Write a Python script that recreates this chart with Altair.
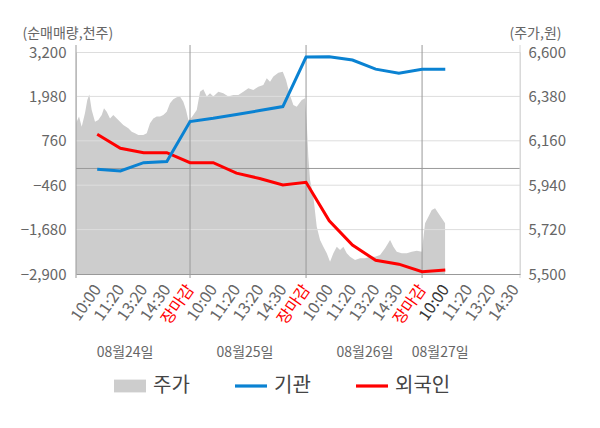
import json
import pandas as pd
import altair as alt

FONT = "Noto Sans CJK KR"

# ---------------- data ----------------
x_labels = ["10:00", "11:20", "13:20", "14:30", "장마감"] * 3 + ["10:00", "11:20", "13:20", "14:30"]
date_labels = ["08월24일", "08월25일", "08월26일", "08월27일"]
date_pos = [1.2, 6.37, 11.54, 14.78]
day_bounds = [-0.914, 4, 9, 14]
x_domain = [-0.914, 18.22]
left_ticks = [-2900, -1680, -460, 760, 1980, 3200]
right_ticks = [5500, 5720, 5940, 6160, 6380, 6600]

line_t = list(range(16))
inst = [-20, -70, 160, 190, 1290, 1380, 1485, 1590, 1700, 3060, 3070, 2980, 2730, 2620, 2725, 2725]
foreign = [938, 554, 433, 433, 158, 158, -130, -275, -455, -381, -1440, -2104, -2525, -2630, -2837, -2790]

price_t = [-0.914, -0.884, -0.784, -0.668, -0.526, -0.427, -0.341, -0.237, -0.095, 0.047, 0.194,
           0.293, 0.409, 0.552, 0.694, 0.909, 1.125, 1.341, 1.487, 1.629, 1.772, 1.987, 2.134,
           2.276, 2.418, 2.565, 2.707, 2.849, 2.996, 3.138, 3.280, 3.427, 3.569, 3.711, 3.828,
           3.927, 4.030,
           4.142, 4.289, 4.431, 4.573, 4.720, 4.862, 5.004, 5.220, 5.435, 5.651, 5.866, 6.082,
           6.297, 6.513, 6.728, 6.944, 7.159, 7.306, 7.448, 7.591, 7.806, 7.996, 8.138, 8.280,
           8.453, 8.599, 8.815, 8.957, 9.030,
           9.099, 9.172, 9.315, 9.461, 9.603, 9.746, 9.892, 10.034, 10.177, 10.323, 10.466,
           10.608, 10.754, 10.897, 11.112, 11.328, 11.543, 11.759, 11.974, 12.190, 12.405,
           12.621, 12.763, 12.909, 13.125, 13.341, 13.556, 13.772, 13.987,
           14.129, 14.272, 14.418, 14.560, 14.703, 14.849, 14.991]
price = [6250, 6255, 6280, 6230, 6298, 6362, 6390, 6313, 6255, 6263, 6288,
         6321, 6304, 6271, 6288, 6263, 6238, 6222, 6205, 6197, 6189, 6189, 6197,
         6247, 6271, 6280, 6280, 6288, 6304, 6346, 6366, 6376, 6379, 6354, 6313,
         6263, 6271,
         6288, 6313, 6403, 6415, 6379, 6395, 6379, 6403, 6395, 6379, 6387, 6387,
         6403, 6420, 6412, 6428, 6436, 6470, 6453, 6478, 6497, 6502, 6461, 6395,
         6337, 6329, 6362, 6371, 6247,
         6081, 5966, 5883, 5734, 5668, 5635, 5603, 5561, 5603, 5635, 5619,
         5635, 5603, 5586, 5569, 5578, 5578, 5586, 5586, 5594, 5627,
         5668, 5635, 5610, 5603, 5603, 5610, 5615, 5610,
         5751, 5784, 5817, 5826, 5801, 5776, 5751]

series_names = ["주가", "기관", "외국인"]
series_colors = ["#cdcdcd", "#0a82d2", "#ff0000"]

# ---------------- frames ----------------
df_price = pd.DataFrame({"t": price_t, "price": price})
df_inst = pd.DataFrame({"t": line_t, "v": inst})
df_for = pd.DataFrame({"t": line_t, "v": foreign})
df_grid = pd.DataFrame({"v": left_ticks[1:-1]})
df_zero = pd.DataFrame({"v": [0]})
df_bounds = pd.DataFrame({"t": day_bounds})
df_right = pd.DataFrame({"t": [x_domain[1]]})
df_dates = pd.DataFrame({"t": date_pos, "label": date_labels})
df_leg = pd.DataFrame({"series": series_names, "t": [line_t[0]] * 3, "v": [inst[0]] * 3})

W, H = 444, 222

xscale = alt.Scale(domain=x_domain, nice=False, zero=False)
lscale = alt.Scale(domain=[left_ticks[0], left_ticks[-1]], nice=False, zero=False)
rscale = alt.Scale(domain=[right_ticks[0], right_ticks[-1]], nice=False, zero=False)

label_expr = json.dumps(x_labels, ensure_ascii=False) + "[round(datum.value)]"

x_axis = alt.Axis(
    values=list(range(len(x_labels))), labelExpr=label_expr, labelAngle=-55,
    labelAlign="right", labelBaseline="middle",
    labelFont=FONT, labelFontSize=16, labelOverlap=False, labelPadding=12,
    labelColor={"condition": [
        {"test": "datum.value == 4 || datum.value == 9 || datum.value == 14", "value": "#ff0000"},
        {"test": "datum.value == 15", "value": "#333333"}], "value": "#666666"},
    ticks=False, grid=False, domain=True, domainColor="#999999", title=None, zindex=1,
)

X = alt.X("t:Q", scale=xscale, axis=x_axis)

right_axis = alt.Axis(
    orient="right", values=right_ticks, format=",.0f", title="(주가,원)", titleAngle=0,
    titleX=-11, titleY=-19, titleAlign="left", titleBaseline="middle",
    titleFont=FONT, titleFontSize=14, titleFontWeight="normal", titleColor="#666666",
    labelFont=FONT, labelFontSize=15, labelColor="#666666", labelPadding=8,
    domain=False, ticks=False, grid=False,
)
left_axis = alt.Axis(
    orient="left", values=left_ticks, format=",.0f", title="(순매매량,천주)", titleAngle=0,
    titleX=-54, titleY=-19, titleAlign="left", titleBaseline="middle",
    titleFont=FONT, titleFontSize=14, titleFontWeight="normal", titleColor="#666666",
    labelFont=FONT, labelFontSize=15, labelColor="#666666", labelPadding=10,
    domain=False, ticks=False, grid=False,
)

area = alt.Chart(df_price).mark_area(color=series_colors[0]).encode(
    x=X,
    y=alt.Y("price:Q", scale=rscale, axis=right_axis),
    y2=alt.datum(right_ticks[0]),
)

grid = alt.Chart(df_grid).mark_rule(color="#dddddd", strokeWidth=1).encode(
    y=alt.Y("v:Q", scale=lscale, axis=left_axis)
)
zero = alt.Chart(df_zero).mark_rule(color="#999999", strokeWidth=1).encode(
    y=alt.Y("v:Q", scale=lscale, axis=left_axis)
)
bounds = alt.Chart(df_bounds).mark_rule(color="#999999", strokeWidth=1).encode(
    x=X, y=alt.value(-7), y2=alt.value(H + 4)
)
right_edge = alt.Chart(df_right).mark_rule(color="#d6d6d6", strokeWidth=1).encode(
    x=X, y=alt.value(-7), y2=alt.value(H + 4)
)
red = alt.Chart(df_for).mark_line(color=series_colors[2], strokeWidth=3).encode(
    x=X, y=alt.Y("v:Q", scale=lscale, axis=left_axis)
)
blue = alt.Chart(df_inst).mark_line(color=series_colors[1], strokeWidth=3).encode(
    x=X, y=alt.Y("v:Q", scale=lscale, axis=left_axis)
)

rect_path = "M-1,-0.4H1V0.4H-1Z"
line_path = "M-1,-0.1H1V0.1H-1Z"
leg_props = dict(
    orient="none", legendX=38, legendY=318, direction="horizontal", title=None,
    symbolSize=1024, labelFont=FONT, labelFontSize=20, labelColor="#444444",
    labelOffset=7, columnPadding=45, padding=0, symbolStrokeWidth=0,
)
legend_pts = alt.Chart(df_leg).mark_point(size=0, filled=True, opacity=1).encode(
    x=X, y=alt.Y("v:Q", scale=lscale, axis=left_axis),
    color=alt.Color("series:N", scale=alt.Scale(domain=series_names, range=series_colors),
                    sort=series_names, legend=alt.Legend(**leg_props)),
    shape=alt.Shape("series:N", scale=alt.Scale(domain=series_names, range=[rect_path, line_path, line_path]),
                    sort=series_names, legend=alt.Legend(**leg_props)),
)

dates = alt.Chart(df_dates).mark_text(font=FONT, fontSize=14, color="#666666", baseline="middle").encode(
    x=X, y=alt.value(301), text="label:N"
)

left_group = alt.layer(grid, zero, bounds, right_edge, red, blue, legend_pts, dates)

chart = alt.layer(area, left_group).resolve_scale(y="independent").properties(
    width=W, height=H,
    autosize=alt.AutoSizeParams(type="none"),
    padding={"left": 68, "top": 44, "right": 72, "bottom": 146},
).configure_view(fill="#f4f4f4", stroke=None).configure(background="white")

chart.save("out.html", embed_options={"renderer": "svg", "actions": False})
